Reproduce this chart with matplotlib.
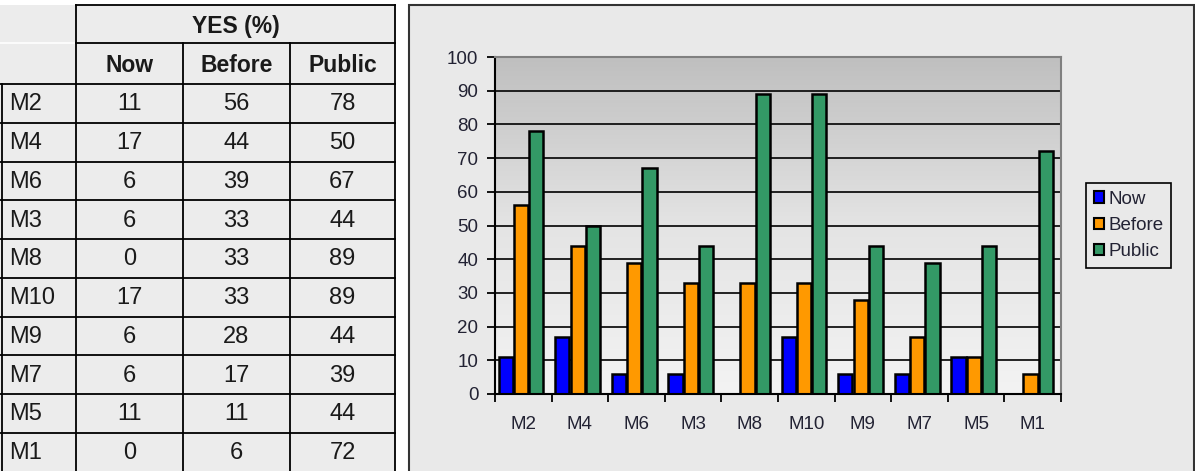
import numpy as np
import matplotlib.pyplot as plt
from matplotlib.patches import Rectangle, Patch
from matplotlib.colors import LinearSegmentedColormap

plt.rcParams['font.family'] = ['Liberation Sans', 'DejaVu Sans']

# data (YES %)
models = ['M2', 'M4', 'M6', 'M3', 'M8', 'M10', 'M9', 'M7', 'M5', 'M1']
now = [11, 17, 6, 6, 0, 17, 6, 6, 11, 0]
before = [56, 44, 39, 33, 33, 33, 28, 17, 11, 6]
public = [78, 50, 67, 44, 89, 89, 44, 39, 44, 72]
series = ['Now', 'Before', 'Public']
colors = ['#0000ff', '#ff9900', '#339966']
values = [now, before, public]

W, H = 1195, 471
fig = plt.figure(figsize=(W / 100, H / 100), dpi=100)
fig.patch.set_facecolor('white')

# background layer in pixel coordinates (table + chart panel)
bgax = fig.add_axes([0, 0, 1, 1])
bgax.set_xlim(0, W)
bgax.set_ylim(H, 0)
bgax.axis('off')

txt = '#1a1a1a'
# --- table ---
col_x = [2, 76, 183, 290, 395]
row_top = 84
row_h = 38.75
bgax.add_patch(Rectangle((0, 5), 395, H, fc='#ececec', ec='none'))
bgax.plot([0, 76], [43, 43], color='white', lw=1.2)
bgax.plot([76, 395], [5, 5], color='black', lw=1.3)
bgax.plot([76, 395], [43, 43], color='black', lw=1.3)
bgax.plot([76, 76], [5, H], color='black', lw=1.3)
bgax.plot([395, 395], [5, H], color='black', lw=1.3)
for xc in col_x[2:4]:
    bgax.plot([xc, xc], [43, H], color='black', lw=1.3)
bgax.plot([2, 2], [row_top, H], color='black', lw=1.3)
for i in range(len(models) + 1):
    yy = row_top + i * row_h
    bgax.plot([0, 395], [yy, yy], color='black', lw=1.3)

bgax.text((76 + 395) / 2, 26, 'YES (%)', ha='center', va='center',
          fontsize=16.5, fontweight='bold', color=txt)
for j, s in enumerate(series):
    cx = (col_x[j + 1] + col_x[j + 2]) / 2
    bgax.text(cx, 66, s, ha='center', va='center', fontsize=16.5,
              fontweight='bold', color=txt)
for i, m in enumerate(models):
    cy = row_top + (i + 0.5) * row_h + 1
    bgax.text(9, cy, m, ha='left', va='center', fontsize=17, color=txt)
    for j in range(3):
        cx = (col_x[j + 1] + col_x[j + 2]) / 2
        bgax.text(cx, cy, str(values[j][i]), ha='center', va='center',
                  fontsize=17, color=txt)

# --- chart panel ---
bgax.add_patch(Rectangle((409, 5), 785, H, fc='#e9e9e9', ec='#333333', lw=1.5))

ax = fig.add_axes([495 / W, 1 - 394 / H, (1061 - 495) / W, (394 - 57) / H])
grad = np.linspace(0, 1, 256).reshape(-1, 1)
cmap = LinearSegmentedColormap.from_list('g', ['#f3f3f3', '#e4e4e4', '#bfbfbf'])
ax.imshow(grad, extent=[-0.5, 9.5, 0, 100], origin='lower', cmap=cmap,
          aspect='auto', zorder=0)

x = np.arange(len(models))
bw = 0.25
for k, (s, c, v) in enumerate(zip(series, colors, values)):
    ax.bar(x + (k - 1) * 0.27 - 0.04, v, width=bw, color=c, edgecolor='black',
           linewidth=1.8, label=s, zorder=2)

ax.set_xlim(-0.5, 9.5)
ax.set_ylim(0, 100)
ax.set_yticks(range(0, 101, 10))
ax.yaxis.grid(True, color='black', lw=1.2)
ax.set_axisbelow(True)
ax.set_xticks(x)
ax.set_xticklabels(models)
ax.set_xticks(np.arange(-0.5, 10, 1), minor=True)
ax.tick_params(axis='x', which='major', length=0, pad=16, labelsize=13.5,
               labelcolor='#222233')
ax.tick_params(axis='x', which='minor', direction='out', length=6, width=1.3)
ax.tick_params(axis='y', direction='out', length=6, width=1.3, pad=6,
               labelsize=13.5, labelcolor='#222233')
for side in ['top', 'right']:
    ax.spines[side].set_color('#808080')
    ax.spines[side].set_linewidth(1.5)
for side in ['left', 'bottom']:
    ax.spines[side].set_color('black')
    ax.spines[side].set_linewidth(1.5)

handles = [Patch(fc=c, ec='black', lw=1.5, label=s) for s, c in zip(series, colors)]
leg = fig.legend(handles=handles, loc='center left',
                 bbox_to_anchor=(1086 / W, 1 - 225.5 / H), frameon=True,
                 fancybox=False, edgecolor='black', facecolor='#e9e9e9',
                 framealpha=1, fontsize=13.5, handlelength=0.55,
                 handleheight=0.55, handletextpad=0.25, labelspacing=0.5,
                 borderpad=0.4, borderaxespad=0)
leg.get_frame().set_linewidth(1.2)
for t in leg.get_texts():
    t.set_color('#222233')

fig.savefig('out.png', dpi=100)
